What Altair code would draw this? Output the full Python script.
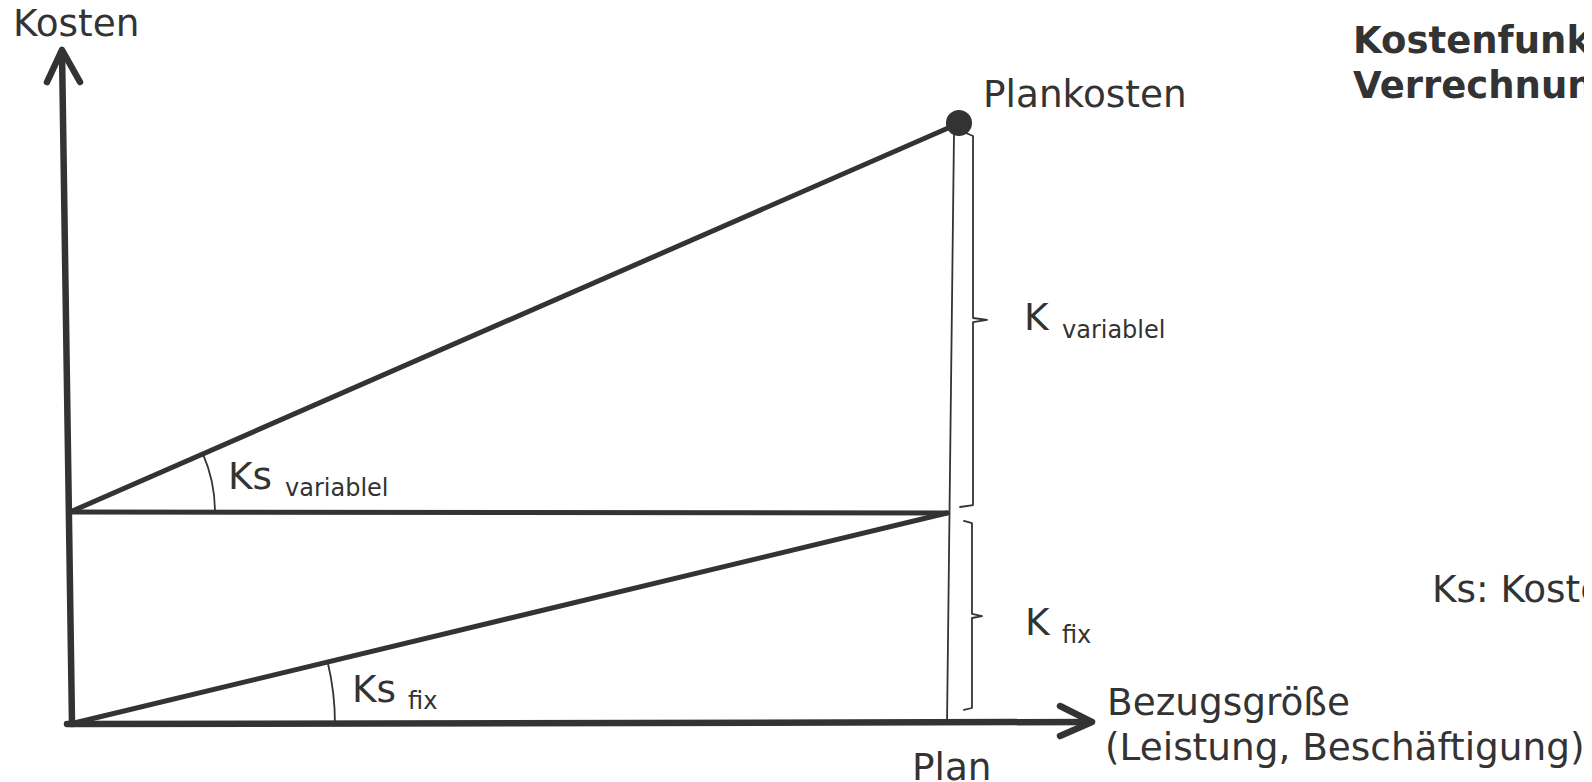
import altair as alt
import pandas as pd

# Conceptual units: Bezugsgröße "Plan" = 100, Plankosten = 100, K_fix level = 35
INK = "#333333"
FONT = "DejaVu Sans"

# ---- thick axes (x / y values) ----
yaxis_x = [0.23, -0.91]
yaxis_y = [-0.17, 111.83]
yarrow_x = [-2.62, -0.91, 1.14]
yarrow_y = [106.83, 112.17, 106.83]
xaxis_x = [-0.34, 116.17]
xaxis_y = [-0.17, 0.17]
xarrow_x = [112.76, 116.4, 112.76]
xarrow_y = [2.83, 0.17, -2.17]

# ---- cost lines ----
fix_line_x = [0.0, 99.89]
fix_line_y = [-0.17, 35.0]
kfix_level_x = [0.0, 99.89]
kfix_level_y = [35.17, 35.0]
var_line_x = [0.0, 100.8]
var_line_y = [35.17, 99.67]
plankosten_x = [101.25]
plankosten_y = [100.0]

# ---- thin lines: Plan vertical and braces ----
plan_v_x = [100.68, 99.89]
plan_v_y = [98.0, 0.17]
brace_var_x = [102.05, 102.85, 102.85, 104.44, 102.85, 102.85, 101.37]
brace_var_y = [98.33, 97.83, 67.5, 67.17, 66.83, 36.33, 36.0]
brace_fix_x = [101.82, 102.73, 102.73, 103.87, 102.73, 102.73, 101.82]
brace_fix_y = [33.67, 33.33, 18.17, 17.83, 17.5, 2.5, 2.17]

# ---- angle arcs (vertex, start angle, radius in px) ----
arc_x = [0.0, 0.0]
arc_y = [35.17, -0.17]
arc_theta = [1.159, 1.3347]
arc_radius = [145, 265]

# ---- labels ----
main_labels = ["Kosten", "Plankosten", "K", "Ks", "Ks", "K", "Plan",
               "Bezugsgröße", "(Leistung, Beschäftigung)", "Ks: Kostensatz"]
main_x = [-6.49, 103.99, 108.66, 18.0, 32.12, 108.77, 95.9, 118.11, 117.88, 155.13]
main_y = [114.5, 102.67, 65.5, 39.0, 3.5, 14.67, -9.5, 1.33, -6.17, 20.17]
sub_labels = ["variablel", "variablel", "fix", "fix"]
sub_x = [112.98, 24.49, 38.5, 112.98]
sub_y = [64.17, 37.83, 2.33, 13.33]
title_lines = ["Kostenfunktion und", "Verrechnungssatz"]
title_x = [146.13, 146.13]
title_y = [111.67, 104.17]


def paths(groups):
    rows = []
    for name, xs, ys in groups:
        for i, (a, b) in enumerate(zip(xs, ys)):
            rows.append({"path": name, "o": i, "x": a, "y": b})
    return pd.DataFrame(rows)


xs = alt.Scale(domain=[-7.0615, 172.437], nice=False, zero=False)
ys = alt.Scale(domain=[-9.8333, 119.1667], nice=False, zero=False)


def line_layer(df, width):
    return alt.Chart(df).mark_line(
        color=INK, strokeWidth=width, strokeCap="round", strokeJoin="round"
    ).encode(
        x=alt.X("x:Q", scale=xs, axis=None),
        y=alt.Y("y:Q", scale=ys, axis=None),
        detail="path:N",
        order="o:Q",
    )


thick = paths([("ya", yaxis_x, yaxis_y), ("yh", yarrow_x, yarrow_y),
               ("xa", xaxis_x, xaxis_y), ("xh", xarrow_x, xarrow_y)])
medium = paths([("fix", fix_line_x, fix_line_y), ("lvl", kfix_level_x, kfix_level_y),
                ("var", var_line_x, var_line_y)])
thin = paths([("pv", plan_v_x, plan_v_y), ("bv", brace_var_x, brace_var_y),
              ("bf", brace_fix_x, brace_fix_y)])

layers = [line_layer(thin, 1.8), line_layer(medium, 5), line_layer(thick, 6.5)]

for ax, ay, th, r in zip(arc_x, arc_y, arc_theta, arc_radius):
    layers.append(
        alt.Chart(pd.DataFrame({"x": [ax], "y": [ay]})).mark_arc(
            theta=th, theta2=1.5708, radius=r, radius2=r,
            stroke=INK, strokeWidth=1.8, fillOpacity=0
        ).encode(x=alt.X("x:Q", scale=xs, axis=None), y=alt.Y("y:Q", scale=ys, axis=None))
    )

layers.append(
    alt.Chart(pd.DataFrame({"x": plankosten_x, "y": plankosten_y})).mark_point(
        filled=True, size=680, color=INK, opacity=1
    ).encode(x=alt.X("x:Q", scale=xs, axis=None), y=alt.Y("y:Q", scale=ys, axis=None))
)


def text_layer(labels, x, y, size, weight="normal"):
    df = pd.DataFrame({"t": labels, "x": x, "y": y})
    return alt.Chart(df).mark_text(
        align="left", baseline="alphabetic", font=FONT, fontSize=size,
        fontWeight=weight, color=INK
    ).encode(
        x=alt.X("x:Q", scale=xs, axis=None),
        y=alt.Y("y:Q", scale=ys, axis=None),
        text="t:N",
    )


layers.append(text_layer(main_labels, main_x, main_y, 37.4))
layers.append(text_layer(sub_labels, sub_x, sub_y, 24))
layers.append(text_layer(title_lines, title_x, title_y, 37, "bold"))

chart = alt.layer(*layers).properties(
    width=1576, height=774,
    autosize=alt.AutoSizeParams(type="none"),
    padding=0,
    background="white",
).configure_view(strokeWidth=0)

chart.save("out.html", embed_options={"renderer": "svg", "actions": False})
